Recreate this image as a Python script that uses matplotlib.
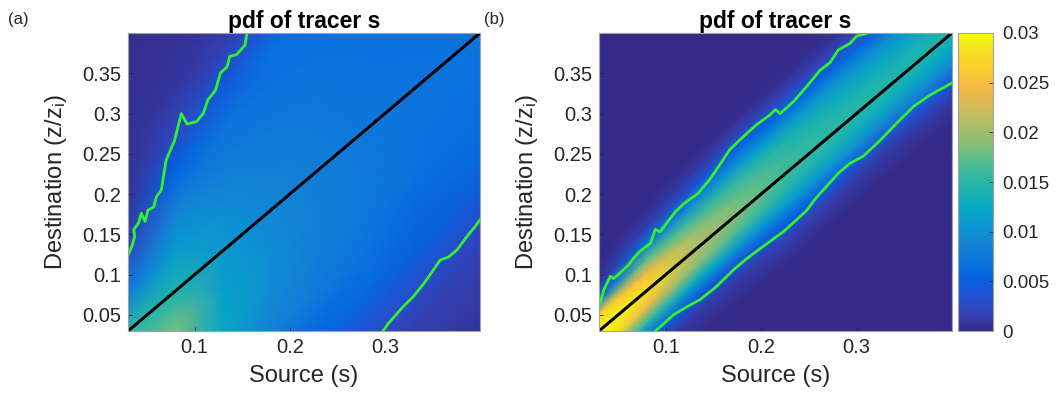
import numpy as np
import matplotlib
matplotlib.use("Agg")
import matplotlib.pyplot as plt
from matplotlib.colors import LinearSegmentedColormap

plt.rcParams['font.family'] = ['Liberation Sans', 'DejaVu Sans']
plt.rcParams['mathtext.fontset'] = 'custom'
plt.rcParams['mathtext.rm'] = 'Liberation Sans'
plt.rcParams['mathtext.it'] = 'Liberation Sans'

# axis settings
AX_LIM = (0.03, 0.4)
X_TICKS = [0.1, 0.2, 0.3]
X_TICK_LABELS = ["0.1", "0.2", "0.3"]
Y_TICKS = [0.05, 0.1, 0.15, 0.2, 0.25, 0.3, 0.35]
Y_TICK_LABELS = ["0.05", "0.1", "0.15", "0.2", "0.25", "0.3", "0.35"]
CB_TICKS = [0, 0.005, 0.01, 0.015, 0.02, 0.025, 0.03]
CB_TICK_LABELS = ["0", "0.005", "0.01", "0.015", "0.02", "0.025", "0.03"]

# pdf sampled along source s and offset d = destination - source (values in 1e-3)
source_a = [0.03, 0.08, 0.13, 0.18, 0.23, 0.28, 0.33, 0.40]
offset_a = [-0.37, -0.30, -0.25, -0.20, -0.15, -0.10, -0.05, 0.0,
            0.05, 0.10, 0.15, 0.20, 0.25, 0.30, 0.37]
pdf_a = [
    [1.0, 1.0, 2.0, 4.0, 9.0, 14.0, 18.0, 15.0, 7.5, 2.3, 1.0, 0.7, 0.5, 0.4, 0.3],
    [1.0, 2.0, 4.0, 7.0, 12.0, 17.0, 18.5, 14.0, 11.0, 8.5, 5.5, 2.2, 1.0, 0.6, 0.4],
    [1.0, 3.0, 5.0, 8.0, 10.5, 12.5, 11.5, 10.5, 9.5, 8.0, 7.0, 4.5, 1.6, 0.8, 0.5],
    [1.0, 2.5, 4.0, 6.0, 8.5, 9.5, 9.5, 9.0, 8.2, 7.5, 7.0, 6.5, 3.5, 1.5, 0.7],
    [1.0, 2.5, 4.0, 6.0, 7.5, 8.2, 8.2, 8.0, 7.6, 7.2, 6.8, 6.0, 4.0, 2.0, 1.0],
    [1.0, 2.0, 3.5, 6.0, 7.0, 7.5, 7.5, 7.3, 7.0, 6.8, 6.5, 6.0, 4.5, 2.5, 1.0],
    [1.0, 1.5, 3.0, 5.0, 6.0, 6.8, 7.0, 7.0, 6.8, 6.5, 6.2, 5.5, 4.5, 3.0, 1.5],
    [0.8, 1.3, 2.2, 4.5, 6.0, 6.5, 6.8, 6.8, 6.5, 6.2, 6.0, 5.5, 4.5, 3.0, 1.5],
]

source_b = [0.03, 0.08, 0.13, 0.18, 0.23, 0.28, 0.33, 0.40]
offset_b = [-0.37, -0.15, -0.11, -0.08, -0.06, -0.04, -0.02, 0.0,
            0.02, 0.04, 0.06, 0.08, 0.10, 0.12, 0.15, 0.37]
pdf_b = [
    [0, 0, 0.3, 2.5, 9.0, 20.0, 32.0, 37.0, 27.0, 6.0, 0.8, 0.2, 0, 0, 0, 0],
    [0, 0, 0.2, 1.5, 5.5, 15.0, 24.0, 28.5, 25.0, 17.0, 6.5, 1.5, 0.4, 0.1, 0, 0],
    [0, 0, 0.2, 1.2, 4.5, 12.5, 19.0, 21.5, 20.0, 16.0, 9.5, 3.5, 1.0, 0.2, 0, 0],
    [0, 0, 0.2, 1.2, 4.2, 11.0, 16.5, 18.5, 17.5, 15.5, 11.0, 6.0, 1.8, 0.4, 0.05, 0],
    [0, 0, 0.3, 1.8, 5.5, 10.5, 14.5, 16.0, 15.5, 14.0, 10.5, 5.5, 1.8, 0.4, 0.05, 0],
    [0, 0, 0.2, 1.5, 4.5, 10.0, 13.5, 15.0, 14.5, 13.0, 10.0, 6.0, 2.0, 0.5, 0.05, 0],
    [0, 0, 0.2, 1.0, 3.5, 9.0, 13.0, 14.5, 14.0, 12.5, 9.5, 5.5, 1.8, 0.4, 0.05, 0],
    [0, 0, 0.2, 1.3, 4.2, 9.0, 12.5, 14.0, 13.5, 12.0, 9.0, 5.5, 2.0, 0.5, 0.05, 0],
]

# green contour lines (source, destination)
upper_a_s = [0.030, 0.034, 0.037, 0.036, 0.041, 0.044, 0.048, 0.051, 0.057, 0.060,
             0.065, 0.070, 0.079, 0.086, 0.092, 0.102, 0.109, 0.114, 0.122, 0.127,
             0.134, 0.137, 0.144, 0.153, 0.155]
upper_a_z = [0.124, 0.135, 0.147, 0.156, 0.164, 0.176, 0.166, 0.180, 0.184, 0.197,
             0.205, 0.242, 0.267, 0.300, 0.287, 0.290, 0.300, 0.317, 0.329, 0.350,
             0.358, 0.371, 0.373, 0.385, 0.400]
lower_a_s = [0.298, 0.304, 0.313, 0.319, 0.330, 0.341, 0.351, 0.358, 0.367, 0.376,
             0.386, 0.395, 0.400]
lower_a_z = [0.030, 0.040, 0.052, 0.060, 0.073, 0.089, 0.106, 0.118, 0.122, 0.131,
             0.147, 0.160, 0.168]

upper_b_s = [0.031, 0.035, 0.042, 0.045, 0.052, 0.061, 0.066, 0.073, 0.084, 0.089,
             0.094, 0.101, 0.110, 0.118, 0.127, 0.134, 0.141, 0.146, 0.153, 0.167,
             0.181, 0.195, 0.209, 0.215, 0.220, 0.234, 0.248, 0.262, 0.272, 0.281,
             0.293, 0.300, 0.312]
upper_b_z = [0.064, 0.081, 0.098, 0.095, 0.102, 0.112, 0.120, 0.129, 0.139, 0.156,
             0.153, 0.164, 0.178, 0.187, 0.195, 0.201, 0.211, 0.218, 0.230, 0.255,
             0.271, 0.286, 0.298, 0.305, 0.300, 0.315, 0.334, 0.354, 0.363, 0.379,
             0.387, 0.396, 0.400]
lower_b_s = [0.089, 0.094, 0.108, 0.122, 0.136, 0.153, 0.171, 0.185, 0.202, 0.223,
             0.237, 0.248, 0.256, 0.265, 0.281, 0.293, 0.307, 0.325, 0.342, 0.360,
             0.377, 0.400]
lower_b_z = [0.030, 0.035, 0.050, 0.060, 0.069, 0.085, 0.106, 0.120, 0.135, 0.153,
             0.168, 0.180, 0.193, 0.205, 0.226, 0.238, 0.247, 0.267, 0.288, 0.309,
             0.323, 0.338]

# parula-like colormap
PARULA = [
    (0.2081, 0.1663, 0.5292), (0.1959, 0.2645, 0.7279), (0.1253, 0.3242, 0.8303),
    (0.0117, 0.3875, 0.8820), (0.0498, 0.4586, 0.8641), (0.0793, 0.5200, 0.8312),
    (0.0343, 0.5966, 0.8199), (0.0228, 0.6535, 0.7768), (0.1133, 0.7015, 0.6859),
    (0.2178, 0.7250, 0.6193), (0.3953, 0.7459, 0.5244), (0.5709, 0.7485, 0.4494),
    (0.7185, 0.7411, 0.3905), (0.8507, 0.7299, 0.3360), (0.9739, 0.7314, 0.2666),
    (0.9880, 0.8066, 0.1794), (0.9625, 0.8705, 0.1309), (0.9763, 0.9831, 0.0538),
]
parula = LinearSegmentedColormap.from_list("parula", PARULA)

GREEN = "#33f030"
TEXT = "#262626"
EDGE = "#a0a0a0"


def draw_panel(ax, source, offset, pdf, upper, lower):
    S, D = np.meshgrid(source, offset)
    V = np.array(pdf).T * 1e-3
    mesh = ax.pcolormesh(S, S + D, V, shading="gouraud", cmap=parula,
                         vmin=0, vmax=0.03, rasterized=True)
    ax.plot(upper[0], upper[1], color=GREEN, lw=2.0, solid_joinstyle="round")
    ax.plot(lower[0], lower[1], color=GREEN, lw=2.0, solid_joinstyle="round")
    ax.axline((0, 0), slope=1, color="black", lw=2.2)
    ax.set_xlim(*AX_LIM)
    ax.set_ylim(*AX_LIM)
    ax.set_xticks(X_TICKS, X_TICK_LABELS)
    ax.set_yticks(Y_TICKS, Y_TICK_LABELS)
    ax.tick_params(direction="in", labelsize=14.5, colors=TEXT, length=3,
                   width=0.6, pad=5)
    for sp in ax.spines.values():
        sp.set_color(EDGE)
        sp.set_linewidth(0.8)
    ax.set_title("pdf of tracer s", fontsize=16.5, fontweight="bold", pad=3,
                 color="black")
    ax.set_xlabel("Source (s)", fontsize=17, color=TEXT, labelpad=6)
    ax.set_ylabel("Destination (z/z$_\\mathregular{i}$)", fontsize=17,
                  color=TEXT, labelpad=9)
    return mesh


fig = plt.figure(figsize=(10.59, 3.99), dpi=100)
ax_a = fig.add_axes([0.1209, 0.1704, 0.3324, 0.7469])
ax_b = fig.add_axes([0.5656, 0.1704, 0.3333, 0.7469])
cax = fig.add_axes([0.9046, 0.1704, 0.0331, 0.7469])

draw_panel(ax_a, source_a, offset_a, pdf_a,
           (upper_a_s, upper_a_z), (lower_a_s, lower_a_z))
mesh = draw_panel(ax_b, source_b, offset_b, pdf_b,
                  (upper_b_s, upper_b_z), (lower_b_s, lower_b_z))

cb = fig.colorbar(mesh, cax=cax)
cb.set_ticks(CB_TICKS, labels=CB_TICK_LABELS)
cb.ax.tick_params(direction="in", labelsize=13.5, colors=TEXT, length=3,
                  width=0.6, pad=7)
cb.outline.set_edgecolor(EDGE)
cb.outline.set_linewidth(0.8)

fig.text(0.008, 0.952, "(a)", fontsize=12, color=TEXT, va="center")
fig.text(0.457, 0.952, "(b)", fontsize=12, color=TEXT, va="center")

fig.savefig("out.png", dpi=100)
